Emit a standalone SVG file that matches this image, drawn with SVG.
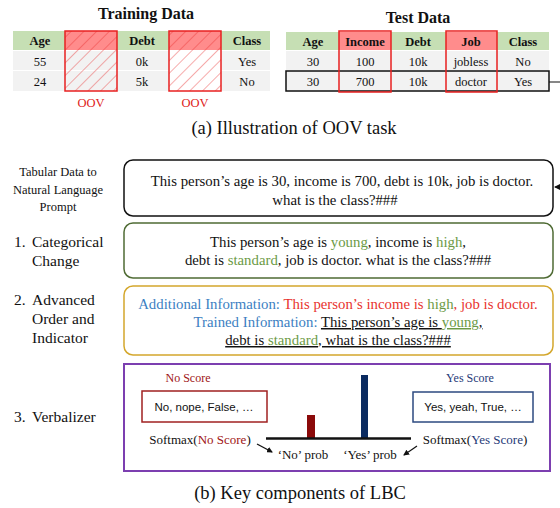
<svg xmlns="http://www.w3.org/2000/svg" width="560" height="508" viewBox="0 0 560 508" font-family="'Liberation Serif','Times New Roman',serif">
<style>
text{font-family:"Liberation Serif","Times New Roman",serif;fill:#111}
.t{font-size:12.5px;text-anchor:middle}
.b{font-weight:bold}
.title{font-size:16px;font-weight:bold;text-anchor:middle}
.cap{font-size:18.5px;text-anchor:middle}
.lbl{font-size:15.5px}
.sm{font-size:12.5px;text-anchor:middle}
.p{font-size:14.8px;text-anchor:middle}
.v{font-size:13px;text-anchor:middle}
.g{fill:#6b9a45}
.bl{fill:#3c7fc2}
.r{fill:#e8332e}
.hd{fill:#c6dfb4}
.row{fill:#f2f2f2}
.oov{fill:#e02020}
.u{text-decoration:underline}
.sans{font-family:"Liberation Sans",Arial,sans-serif;font-size:11.5px;text-anchor:middle}
</style>
<defs>
<pattern id="hatch" width="9" height="9" patternUnits="userSpaceOnUse" patternTransform="rotate(45)">
<line x1="0" y1="0" x2="0" y2="9" stroke="#e83030" stroke-width="0.8"/>
</pattern>
<marker id="ah" markerWidth="6" markerHeight="6" refX="5" refY="3" orient="auto" markerUnits="userSpaceOnUse">
<path d="M0,0 L6,3 L0,6 z" fill="#111"/>
</marker>
</defs>

<g id="training">
<text class="title" x="146" y="19">Training Data</text>
<rect class="hd" x="13" y="31" width="257" height="19"/>
<rect class="row" x="13" y="51" width="257" height="19"/>
<rect class="row" x="13" y="71" width="257" height="20"/>
<text class="t b" x="40" y="45">Age</text>
<text class="t b" x="142" y="45">Debt</text>
<text class="t b" x="247" y="45">Class</text>
<text class="t" x="40" y="66">55</text>
<text class="t" x="142" y="66">0k</text>
<text class="t" x="247" y="66">Yes</text>
<text class="t" x="40" y="86">24</text>
<text class="t" x="142" y="86">5k</text>
<text class="t" x="247" y="86">No</text>
<rect x="65" y="31" width="52" height="19" fill="#ff8c8c"/>
<rect x="65" y="31" width="52" height="60" fill="url(#hatch)" stroke="#e82020" stroke-width="1.5"/>
<rect x="169" y="31" width="52" height="19" fill="#ff8c8c"/>
<rect x="169" y="50" width="52" height="41" fill="#fff"/>
<rect x="169" y="31" width="52" height="60" fill="url(#hatch)" stroke="#e82020" stroke-width="1.5"/>
<text class="t oov" x="91" y="107">OOV</text>
<text class="t oov" x="195" y="107">OOV</text>
</g>

<g id="test">
<text class="title" x="418" y="23">Test Data</text>
<rect class="hd" x="286" y="32" width="263" height="18"/>
<rect class="row" x="286" y="51" width="263" height="19"/>
<rect class="row" x="286" y="71" width="263" height="20"/>
<rect x="339" y="32" width="52" height="18" fill="#ff8c8c"/>
<rect x="446" y="32" width="51" height="18" fill="#ff8c8c"/>
<text class="t b" x="313" y="46">Age</text>
<text class="t b" x="365" y="46">Income</text>
<text class="t b" x="418" y="46">Debt</text>
<text class="t b" x="471" y="46">Job</text>
<text class="t b" x="523" y="46">Class</text>
<text class="t" x="313" y="66">30</text>
<text class="t" x="365" y="66">100</text>
<text class="t" x="418" y="66">10k</text>
<text class="t" x="471" y="66">jobless</text>
<text class="t" x="523" y="66">No</text>
<text class="t" x="313" y="86">30</text>
<text class="t" x="365" y="86">700</text>
<text class="t" x="418" y="86">10k</text>
<text class="t" x="471" y="86">doctor</text>
<text class="t" x="523" y="86">Yes</text>
<rect x="286" y="71" width="263" height="20" fill="none" stroke="#111" stroke-width="1.5"/>
<rect x="339" y="31" width="52" height="61" fill="none" stroke="#e82020" stroke-width="1.5"/>
<rect x="446" y="31" width="51" height="61" fill="none" stroke="#e82020" stroke-width="1.5"/>
</g>

<text class="cap" x="294" y="134">(a) Illustration of OOV task</text>

<g id="label0">
<text class="sm" x="58" y="176">Tabular Data to</text>
<text class="sm" x="58" y="194">Natural Language</text>
<text class="sm" x="58" y="211">Prompt</text>
</g>
<g id="prompt">
<rect x="124" y="160" width="429" height="56" rx="9" fill="#fff" stroke="#111" stroke-width="1.5"/>
<text class="p" x="342" y="186">This person’s age is 30, income is 700, debt is 10k, job is doctor.</text>
<text class="p" x="335" y="205">what is the class?###</text>
</g>

<g id="label1">
<text class="lbl" x="14" y="247">1.</text>
<text class="lbl" x="32" y="247">Categorical</text>
<text class="lbl" x="32" y="266">Change</text>
</g>
<g id="categorical">
<rect x="124" y="223" width="429" height="55" rx="9" fill="#fff" stroke="#4f6b34" stroke-width="1.5"/>
<text class="p" x="338" y="247">This person’s age is <tspan class="g">young</tspan>, income is <tspan class="g">high</tspan>,</text>
<text class="p" x="338" y="265">debt is <tspan class="g">standard</tspan>, job is doctor. what is the class?###</text>
</g>

<g id="label2">
<text class="lbl" x="14" y="305">2.</text>
<text class="lbl" x="32" y="305">Advanced</text>
<text class="lbl" x="32" y="324">Order and</text>
<text class="lbl" x="32" y="343">Indicator</text>
</g>
<g id="advanced">
<rect x="124" y="286" width="429" height="69" rx="9" fill="#fff" stroke="#d4a72c" stroke-width="1.5"/>
<text class="p" x="338" y="309"><tspan class="bl">Additional Information: </tspan><tspan class="r">This person’s income is </tspan><tspan class="g">high</tspan><tspan class="r">, job is doctor.</tspan></text>
<text class="p" x="338" y="327"><tspan class="bl">Trained Information: </tspan><tspan class="u">This person’s age is </tspan><tspan class="g u">young</tspan><tspan class="u">,</tspan></text>
<text class="p u" x="338" y="345">debt is <tspan class="g">standard</tspan>, what is the class?###</text>
</g>

<g id="label3">
<text class="lbl" x="14" y="422">3.</text>
<text class="lbl" x="32" y="422">Verbalizer</text>
</g>
<g id="verbalizer">
<rect x="124" y="364" width="426" height="107" fill="#fff" stroke="#7c3fb0" stroke-width="2"/>
<text x="188" y="382" style="font-size:12px;text-anchor:middle;fill:#a01515">No Score</text>
<rect x="142" y="391" width="125" height="31" fill="#fff" stroke="#a02020" stroke-width="1.5"/>
<text class="sans" x="204" y="411">No, nope, False, …</text>
<text x="470" y="382" style="font-size:12px;text-anchor:middle;fill:#1f3a78">Yes Score</text>
<rect x="413" y="392" width="120" height="30" fill="#fff" stroke="#2c4a80" stroke-width="1.5"/>
<text class="sans" x="473" y="411">Yes, yeah, True, …</text>
<rect x="307" y="415" width="8" height="23" fill="#8b0a0a"/>
<rect x="361" y="375" width="7" height="63" fill="#0a2a60"/>
<line x1="266" y1="438.5" x2="411" y2="438.5" stroke="#111" stroke-width="2.5"/>
<text class="v" x="200" y="444">Softmax(<tspan style="fill:#a01515">No Score</tspan>)</text>
<text class="v" x="475" y="444">Softmax(<tspan style="fill:#1f3a78">Yes Score</tspan>)</text>
<text class="v" x="303" y="459">‘No’ prob</text>
<text class="v" x="370" y="459">‘Yes’ prob</text>
</g>

<g id="connectors" fill="none" stroke="#111" stroke-width="1.2">
<path d="M549,82 H562 V187 H555" marker-end="url(#ah)"/>
<line x1="257" y1="444" x2="272" y2="452" marker-end="url(#ah)"/>
<line x1="417" y1="446" x2="404" y2="455" marker-end="url(#ah)"/>
</g>

<text class="cap" x="300" y="499">(b) Key components of LBC</text>
</svg>
